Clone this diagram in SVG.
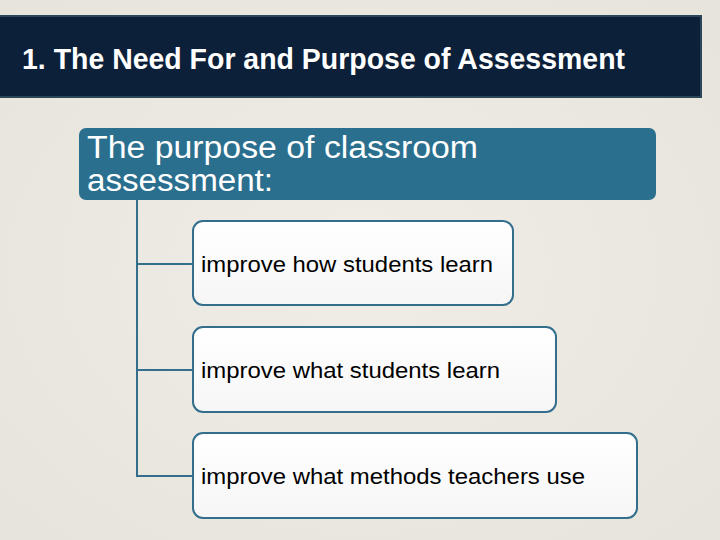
<svg xmlns="http://www.w3.org/2000/svg" width="720" height="540" viewBox="0 0 720 540">
<defs>
<linearGradient id="boxfill" x1="0" y1="0" x2="0" y2="1">
<stop offset="0" stop-color="#ffffff"/>
<stop offset="1" stop-color="#f6f6f6"/>
</linearGradient>
<radialGradient id="bg" cx="0.5" cy="0.5" r="0.75">
<stop offset="0" stop-color="#efede6"/>
<stop offset="1" stop-color="#e6e3da"/>
</radialGradient>
</defs>
<style>
.item{fill:url(#boxfill);stroke:#336f8d;stroke-width:2}
.itext{font-family:"Liberation Sans",Arial,sans-serif;font-size:22px;fill:#000}
.conn{stroke:#336f8d;stroke-width:2;fill:none}
</style>
<rect x="0" y="0" width="720" height="540" fill="url(#bg)"/>
<g id="title">
<rect x="-2" y="16" width="703" height="81" fill="#0c2039" stroke="#2b4659" stroke-width="2"/>
<text x="22" y="69" font-family="'Liberation Sans Narrow','Liberation Sans',Arial,sans-serif" font-size="30" font-weight="bold" fill="#ffffff" textLength="603" lengthAdjust="spacingAndGlyphs">1. The Need For and Purpose of Assessment</text>
</g>
<g id="header">
<rect x="79" y="128" width="577" height="72" rx="7" fill="#2b6f8f"/>
<text x="87" y="158" font-family="'Liberation Sans',Arial,sans-serif" font-size="31" fill="#ffffff" textLength="391" lengthAdjust="spacingAndGlyphs">The purpose of classroom</text>
<text x="87" y="191" font-family="'Liberation Sans',Arial,sans-serif" font-size="31" fill="#ffffff" textLength="186" lengthAdjust="spacingAndGlyphs">assessment:</text>
</g>
<g id="connectors">
<path class="conn" d="M137 200 V476 H193 M137 264 H193 M137 370 H193"/>
</g>
<g id="item1">
<rect class="item" x="193" y="221" width="320" height="84" rx="10"/>
<text class="itext" x="201" y="272" textLength="292" lengthAdjust="spacingAndGlyphs">improve how students learn</text>
</g>
<g id="item2">
<rect class="item" x="193" y="327" width="363" height="85" rx="10"/>
<text class="itext" x="201" y="378" textLength="299" lengthAdjust="spacingAndGlyphs">improve what students learn</text>
</g>
<g id="item3">
<rect class="item" x="193" y="433" width="444" height="85" rx="10"/>
<text class="itext" x="201" y="484" textLength="384" lengthAdjust="spacingAndGlyphs">improve what methods teachers use</text>
</g>
</svg>
